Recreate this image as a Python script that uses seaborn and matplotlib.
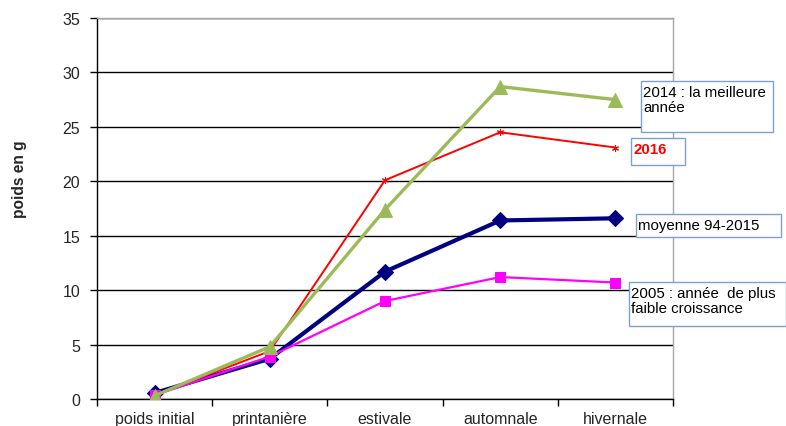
import matplotlib
matplotlib.use("Agg")
import matplotlib.pyplot as plt
from matplotlib.patches import Rectangle
import seaborn as sns
import pandas as pd

# Growth stages and weights (g)
stages = ["poids initial", "printanière", "estivale", "automnale", "hivernale"]
moyenne_94_2015 = [0.55, 3.7, 11.7, 16.4, 16.6]
annee_2005 = [0.35, 3.9, 9.0, 11.2, 10.7]
annee_2016 = [0.35, 4.4, 20.1, 24.5, 23.1]
annee_2014 = [0.3, 4.8, 17.4, 28.7, 27.5]
y_ticks = [0, 5, 10, 15, 20, 25, 30, 35]

sns.set_theme(style="white")
plt.rcParams["font.family"] = ["Liberation Sans", "DejaVu Sans"]

W, H = 786, 427
fig = plt.figure(figsize=(W / 100, H / 100), dpi=100)
ax = fig.add_axes([97 / W, (H - 400) / H, 576 / W, 381 / H])

series = [
    (moyenne_94_2015, "#000080", "D", 3.0, 8.5),
    (annee_2005, "#ff00ff", "s", 1.6, 6.5),
    (annee_2016, "#ff0000", (6, 2, 0), 1.4, 5),
    (annee_2014, "#9bbb59", "^", 2.4, 9.5),
]

for values, color, marker, lw, ms in series:
    df = pd.DataFrame({"stade": stages, "poids": values})
    sns.lineplot(data=df, x="stade", y="poids", ax=ax, color=color,
                 linewidth=lw, marker=marker, markersize=ms,
                 markeredgecolor=color, markerfacecolor=color, sort=False,
                 zorder=3)

ax.set_xlim(-0.5, len(stages) - 0.5)
ax.set_ylim(0, 35)
ax.set_yticks(y_ticks)
ax.yaxis.grid(True, color="black", linewidth=1.0)
ax.set_axisbelow(True)

# Category labels centred, tick marks on the boundaries
ax.set_xticks(range(len(stages)))
ax.set_xticklabels(stages, fontsize=11.5)
ax.tick_params(axis="x", which="major", length=0, pad=9)
ax.set_xticks([i - 0.5 for i in range(len(stages) + 1)], minor=True)
ax.tick_params(axis="x", which="minor", direction="out", length=5,
               width=1, color="black", bottom=True)
ax.tick_params(axis="y", direction="out", length=5, width=1,
               color="black", left=True, labelsize=11.5, pad=7)

ax.set_xlabel("")
ax.set_ylabel("")
for side in ("top", "right"):
    ax.spines[side].set_color("#a6a6a6")
    ax.spines[side].set_linewidth(1.0)
for side in ("left", "bottom"):
    ax.spines[side].set_color("black")
    ax.spines[side].set_linewidth(1.0)

fig.text(20 / W, 1 - 179 / H, "poids en g", rotation=90, ha="center",
         va="center", fontsize=11.2, fontweight="bold")


def label_box(x0, y0, x1, y1, lines, color="black", weight="normal"):
    fig.add_artist(Rectangle((x0 / W, 1 - y1 / H), (x1 - x0) / W,
                             (y1 - y0) / H, transform=fig.transFigure,
                             facecolor="white", edgecolor="#7f9fcf",
                             linewidth=1.0, zorder=5))
    fig.text((x0 + 2) / W, 1 - (y0 + 4) / H, lines, ha="left", va="top",
             fontsize=10.8, color=color, fontweight=weight,
             linespacing=1.1, zorder=6)


label_box(641, 82, 773, 133, "2014 : la meilleure\nannée")
label_box(631, 139, 685, 166, "2016", color="#ff0000", weight="bold")
label_box(636, 215, 781, 238, "moyenne 94-2015")
label_box(629, 283, 786, 327, "2005 : année  de plus\nfaible croissance")

fig.savefig("out.png", dpi=100)
